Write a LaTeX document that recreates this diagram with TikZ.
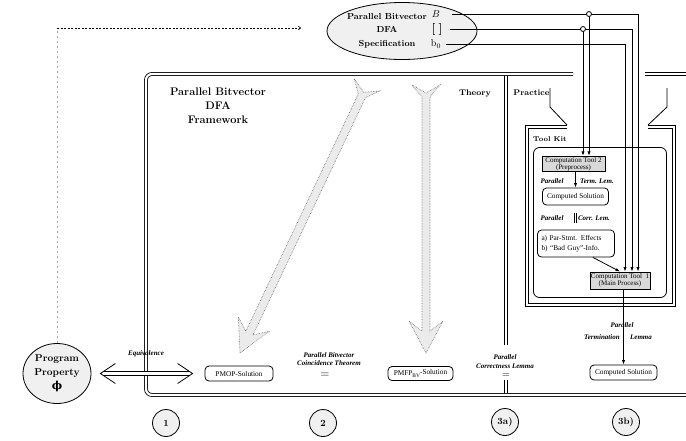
\documentclass[tikz,border=0pt]{standalone}
\usepackage{fontspec}
\newfontfamily\tms[Ligatures=TeX]{Liberation Serif}
\newfontfamily\dvs{DejaVu Serif}
\usetikzlibrary{arrows.meta,calc,shapes.geometric}
\newcommand{\fatarrow}[2]{%
  \coordinate (#1-a) at ($(#1)!12pt!(#2)$);
  \coordinate (#1-n) at ($(#1)!8pt!(#2)$);
  \coordinate (#1-b) at ($(#2)!22pt!(#1)$);
  \coordinate (#1-c) at ($(#2)!32pt!(#1)$);
  \path[fat] ($(#1)!14pt!-90:(#2)$) -- (#1-n) -- ($(#1)!14pt!90:(#2)$)
    -- ($(#1-a)!4pt!90:(#2)$) -- ($(#1-b)!4pt!-90:(#1)$) -- ($(#1-c)!17pt!-90:(#1)$)
    -- (#2) -- ($(#1-c)!17pt!90:(#1)$) -- ($(#1-b)!4pt!90:(#1)$) -- ($(#1-a)!4pt!-90:(#2)$) -- cycle;
}
\tikzset{
  every node/.style={inner sep=1pt},
  ttl/.style={font=\fontsize{11}{14}\selectfont\bfseries, align=center},
  spect/.style={font=\fontsize{8.7}{13.5}\selectfont\bfseries, align=center},
  hdr/.style={font=\fontsize{8.2}{10}\selectfont\bfseries},
  sm/.style={font=\tms\fontsize{7.3}{7.3}\selectfont},
  lem/.style={font=\tms\fontsize{7}{8.5}\selectfont\bfseries\itshape, align=center},
  sbox/.style={draw, rounded corners=4pt, sm, inner sep=0pt},
  tool/.style={draw, fill=gray!30, font=\tms\fontsize{7}{7}\selectfont, align=center, inner sep=0pt},
  num/.style={circle, draw, fill=gray!12, minimum size=27pt, inner sep=0pt, font=\fontsize{9.5}{10}\selectfont\bfseries},
  arr/.style={-{Latex[length=4.5pt,width=3.2pt]}},
  dbl/.style={double, double distance=2.2pt},
  fat/.style={draw=black!60, densely dotted, fill=black!8, line width=0.6pt},
  junc/.style={circle, draw, fill=white, minimum size=5pt, inner sep=0pt},
  ell/.style={ellipse, draw, fill=gray!12, inner sep=0pt},
  dshv/.style={draw=gray!70, line width=1pt, dash pattern=on 2.5pt off 2.5pt},
  dshh/.style={draw=black, line width=0.6pt, dash pattern=on 2pt off 1.5pt, -{To[length=3pt,width=4pt]}},
}
\begin{document}
\begin{tikzpicture}[x=1pt,y=-1pt,line width=0.8pt]
\useasboundingbox (0,0) rectangle (686,440);

% big hollow dotted arrows
\coordinate (t1) at (367,85);
\coordinate (h1) at (240,353);
\coordinate (t2) at (426,85);
\coordinate (h2) at (426,353);
\fatarrow{t1}{h1}
\fatarrow{t2}{h2}

% main framework frame
\draw[dbl, rounded corners=6pt] (573,74) -- (146,74) -- (146,395) -- (686,395);
\draw[dbl] (645,74) -- (686,74);
\draw[dbl] (506,76) -- (506,345);
\draw[dbl] (506,380) -- (506,393.1);

% tool kit frame
\draw[dbl] (567,127) -- (527,127) -- (527,305) -- (674,305) -- (674,127) -- (648,127);
\draw (550,88) -- (550,107) -- (567,125);
\draw (667,88) -- (667,107) -- (648,125);
\draw[rounded corners=6pt] (533.5,147.5) rectangle (666.5,297.5);

% spec ellipse
\node[ell, minimum width=150pt, minimum height=57pt] (spec) at (402,31) {};
\node[spect] (spectxt) at (387,30.5) {Parallel Bitvector\\DFA\\Specification};
\node[font=\fontsize{10}{10}\selectfont] (labB) at (436,14) {$B$};
\node[font=\fontsize{12}{12}\selectfont\bfseries] (labBr) at (437,29) {[\hspace{3pt}]};
\node[font=\fontsize{10}{10}\selectfont] (labb) at (436,44) {b$_0$};

% program property
\node[ell, minimum width=68pt, minimum height=60pt, font=\fontsize{10}{14}\selectfont\bfseries, align=center] (pp) at (57,373.5) {Program\\Property\\{\dvs\bfseries\fontsize{11}{11}\selectfont ϕ}};

% titles
\node[ttl] (fw) at (218,106) {Parallel Bitvector\\DFA\\Framework};
\node[hdr] (th) at (475,93) {Theory};
\node[hdr] (pr) at (531.5,93) {Practice};
\node[font=\fontsize{7}{8}\selectfont\bfseries] (tk) at (550,139) {Tool Kit};

% boxes
\node[sbox, minimum width=68pt, minimum height=15pt] (pmop) at (239,373.5) {PMOP-Solution};
\node[sbox, minimum width=65pt, minimum height=14pt] (pmfp) at (420.5,373.5) {PMFP\raisebox{-2.5pt}{\fontsize{5.5}{5.5}\selectfont BV}\raisebox{1pt}{-Solution}};
\node[sbox, minimum width=67pt, minimum height=15pt] (cso) at (623.5,372.5) {Computed Solution};
\node[tool, minimum width=63pt, minimum height=15.5pt] (ct2) at (573.5,164) {Computation Tool 2\\(Preprocess)};
\node[sbox, minimum width=66pt, minimum height=17pt] (csi) at (575.5,196.5) {Computed Solution};
\node[sbox, text width=69pt, inner xsep=4pt, align=left, minimum height=27pt, font=\tms\fontsize{7.3}{10}\selectfont] (ab) at (576,243.5) {a) Par-Stmt. Effects\\b) “Bad Guy”-Info.};
\node[tool, minimum width=60pt, minimum height=17pt] (ct1) at (620,280.5) {Computation Tool\ \ 1\\(Main Process)};

% lemma labels
\node[lem] (par1) at (552,181) {Parallel};
\node[lem] (term) at (597,181) {Term. Lem.};
\node[lem] (par2) at (552,218) {Parallel};
\node[lem] (corr) at (594,218) {Corr. Lem.};
\node[lem] (par3) at (622,325) {Parallel};
\node[lem] (termi) at (602,337) {Termination};
\node[lem] (lemm) at (641,337) {Lemma};
\node[lem] (eq) at (146,354) {Equivalence};
\node[lem] (coin) at (329,359) {Parallel Bitvector\\Coincidence Theorem};
\node[font=\fontsize{12}{12}\selectfont] (eqs1) at (325,375) {$=$};
\node[lem] (corrlem) at (505,361.5) {Parallel\\Correctness Lemma};
\node[font=\fontsize{10}{10}\selectfont] (eqs2) at (506,375.5) {$=$};

% number circles
\node[num] (n1) at (166,423) {1};
\node[num] (n2) at (323,423) {2};
\node[num] (n3a) at (505,422) {3a)};
\node[num] (n3b) at (626,422) {3b)};

% spec lines
\coordinate (j1) at (589,14);
\coordinate (j2) at (583,29);
\draw[arr] ([xshift=11pt]labB.east) -| ([xshift=18pt]ct1.north);
\draw[arr] ([xshift=6pt]labBr.east) -| ([xshift=12pt]ct1.north);
\draw[arr] ([xshift=4pt]labb.east) -| ([xshift=5pt]ct1.north);
\draw[arr] (j1) -- (j1 |- ct2.north);
\draw[arr] (j2) -- (j2 |- ct2.north);
\node[junc] (jc1) at (j1) {};
\node[junc] (jc2) at (j2) {};

% tool kit connectors
\draw[arr] (csi.north |- ct2.south) -- (csi.north);
\draw[dbl, double distance=1.4pt] ([yshift=-8pt]csi.south) -- ++(0,10);
\draw[arr] ([xshift=-22pt]ab.south east) -- (ct1.north);
\draw[arr] (ct1.south -| cso.north) -- (cso.north);

% equivalence double arrow
\draw[dbl, double distance=3pt] ([xshift=12pt]pp.east) -- ([xshift=-15pt]pmop.west);
\draw ([xshift=24pt,yshift=10pt]pp.east) -- ([xshift=9pt]pp.east) -- ([xshift=24pt,yshift=-10pt]pp.east);
\draw ([xshift=-27pt,yshift=10pt]pmop.west) -- ([xshift=-12pt]pmop.west) -- ([xshift=-27pt,yshift=-10pt]pmop.west);

% dashed feedback
\coordinate (dend) at (301,28);
\coordinate (dcorner) at (pp.north |- dend);
\draw[dshv] (pp.north) -- (dcorner);
\draw[dshh] (dcorner) -- (dend);
\end{tikzpicture}
\end{document}
